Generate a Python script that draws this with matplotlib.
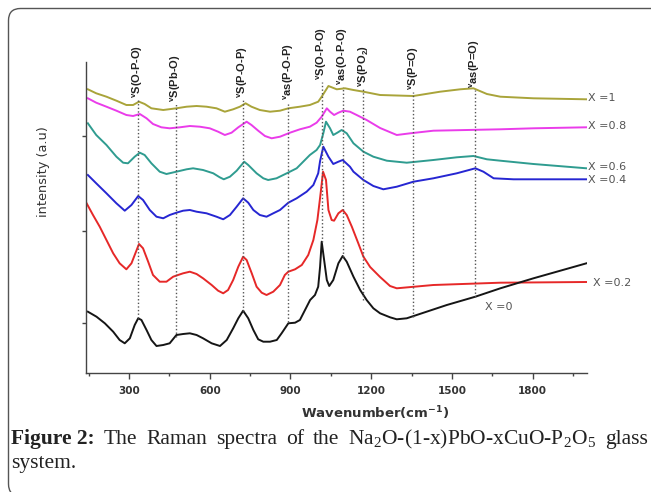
import numpy as np
import matplotlib
matplotlib.use("Agg")
import matplotlib.pyplot as plt
from matplotlib.patches import FancyBboxPatch
from matplotlib.transforms import IdentityTransform
from matplotlib.ticker import FixedLocator

# ---------------- data ----------------
wn_x1 = [147, 178, 216, 253, 290, 315, 337, 358, 383, 427, 476, 514, 551, 588, 625, 656, 687, 712, 733, 755,
         786, 824, 861, 892, 935, 972, 1003, 1016, 1041, 1072, 1103, 1134, 1171, 1233, 1357, 1456, 1531, 1580,
         1630, 1680, 1803, 2000]
int_x1 = [283.7, 279.7, 276.3, 272.3, 268, 268, 271.3, 269, 264.7, 263, 264.7, 266.3, 267, 266.3, 264.7, 261.3,
          263.7, 266.3, 269.7, 266.3, 263, 261.3, 262.3, 264.7, 266.3, 268, 271.3, 276.3, 287, 283.7, 284.7, 283,
          281.3, 278, 277, 281.3, 283.7, 284.7, 279, 276.3, 274.7, 273.7]

wn_x08 = [147, 178, 216, 253, 290, 315, 340, 365, 389, 420, 451, 489, 526, 563, 600, 631, 656, 681, 706, 737,
          755, 780, 805, 830, 861, 898, 935, 972, 997, 1016, 1035, 1047, 1062, 1078, 1096, 1121, 1146, 1183,
          1233, 1295, 1345, 1431, 1556, 1680, 1803, 2000]
int_x08 = [274.7, 270.3, 266.3, 262.3, 258, 257, 259, 254.7, 249, 245.7, 244.7, 245.7, 247, 246.3, 244.7, 241.3,
           238, 240.3, 245.7, 251.3, 248, 242.3, 237, 234.7, 236.3, 240.3, 243.7, 246.3, 250.3, 256.3, 264.7,
           261.3, 258, 260.3, 262.3, 261.3, 258, 253, 245, 238, 239.7, 242.3, 243, 243.7, 244.7, 245.7]

wn_x06 = [147, 178, 216, 253, 278, 296, 321, 340, 358, 383, 414, 439, 476, 514, 538, 575, 613, 637, 652, 675,
          700, 728, 743, 774, 799, 817, 848, 886, 923, 972, 997, 1010, 1022, 1032, 1047, 1059, 1074, 1090, 1109,
          1134, 1171, 1208, 1258, 1332, 1431, 1518, 1580, 1630, 1680, 1803, 2000]
int_x06 = [249.7, 238, 228, 216.3, 210.3, 209.7, 216.3, 220.3, 218, 209.7, 201.3, 199, 201.3, 203.7, 204.7, 203,
           199.7, 195.7, 193.7, 196.3, 202.3, 211.3, 208, 199.7, 194.7, 193, 194.7, 199.7, 204.7, 218, 223, 228,
           239.7, 251.3, 244.7, 238, 240.3, 243, 239.7, 229.7, 221.3, 216.3, 212.3, 210.3, 213, 215.7, 217,
           213.7, 212.3, 209, 204.7]

wn_x04 = [147, 178, 216, 253, 284, 309, 334, 352, 377, 402, 427, 451, 476, 501, 526, 551, 588, 625, 650, 675,
          700, 724, 743, 762, 786, 811, 836, 861, 892, 923, 960, 985, 1003, 1010, 1022, 1041, 1059, 1078, 1094,
          1121, 1134, 1171, 1208, 1245, 1295, 1357, 1431, 1518, 1587, 1617, 1655, 1729, 2000]
int_x04 = [198, 189.7, 179.7, 169.7, 162.3, 168, 177, 173, 163, 156.3, 154.7, 158, 160.3, 162.3, 163, 161.3, 159.7,
           156.3, 153.7, 158, 166.3, 174.7, 170.3, 163, 158, 156.3, 159.7, 163, 170.3, 174.7, 181.3, 188, 199.7,
           212, 226.3, 216.3, 209, 211.3, 213, 206.3, 201.3, 193, 187, 183.7, 186.3, 191.3, 194.7, 199.7, 204.7,
           201.3, 194.7, 193.7, 193.7]

wn_x02 = [139, 166, 191, 216, 241, 265, 290, 309, 321, 337, 352, 371, 389, 414, 439, 464, 482, 501, 526, 551,
          575, 607, 631, 650, 668, 687, 706, 724, 737, 756, 774, 793, 811, 836, 861, 879, 892, 917, 942, 966, 985,
          1000, 1012, 1021, 1032, 1041, 1053, 1062, 1078, 1094, 1109, 1128, 1152, 1171, 1196, 1233, 1270, 1295,
          1431, 1680, 2000]
int_x02 = [171.3, 158, 146.3, 133, 119.7, 109.7, 103.7, 109.7, 118, 129, 124.7, 111.3, 98, 91.3, 91.3, 96.3, 98,
           99.7, 101.3, 99, 94.7, 88, 82.3, 79.7, 83, 93, 106.3, 116.3, 113, 99.7, 86.3, 80.3, 78, 81.3, 88, 98,
           101.3, 103.7, 108, 118, 133, 153, 179.7, 201.3, 193, 163, 153, 152.3, 159.7, 163, 158, 146.3, 129.7,
           116.3, 106, 96, 87, 84.7, 88, 90.3, 91]

wn_x0 = [147, 179, 210, 241, 265, 284, 303, 321, 334, 346, 365, 383, 402, 427, 451, 476, 501, 526, 551, 575, 607,
         638, 663, 687, 706, 724, 743, 762, 780, 799, 824, 849, 867, 892, 917, 935, 954, 973, 991, 1003, 1010, 1016,
         1025, 1035, 1044, 1059, 1078, 1094, 1109, 1134, 1159, 1183, 1208, 1233, 1270, 1295, 1332, 1481, 1587,
         1680, 1803, 2000]
int_x0 = [61.3, 56.3, 49.7, 41.3, 33, 29.7, 34.7, 48, 54.7, 53, 43, 33, 27, 28, 29.7, 38, 39, 39.7, 38, 34.7, 29.7,
          27, 33, 44.7, 54.7, 62.3, 54.7, 43, 33.7, 31.3, 31.3, 33, 39.7, 49.7, 50.3, 53, 63, 73, 78, 86.3, 106.3,
          131.3, 113, 93, 87, 93, 109.7, 117, 111.3, 96.3, 83, 73, 64.7, 59.7, 55.7, 53.7, 54.7, 68, 76.3, 84.7,
          94.7, 109.7]

series_names = ["X =1", "X =0.8", "X =0.6", "X =0.4", "X =0.2", "X =0"]
series_wn = [wn_x1, wn_x08, wn_x06, wn_x04, wn_x02, wn_x0]
series_int = [int_x1, int_x08, int_x06, int_x04, int_x02, int_x0]
name_x = [2007, 2007, 2007, 2007, 2026, 1624]
name_y = [275, 247, 206, 193, 90, 66]

band_pos = [333, 474, 724, 892, 1016, 1094, 1171, 1357, 1584]
band_top = [273, 269, 273, 271, 291, 286, 284, 281, 283]
band_bottom = [55, 36, 62, 51, 131, 116, 73, 56, 76]
band_labels = [r"$^\mathregular{v}$S(O-P-O)", r"$^\mathregular{v}$S(Pb-O)", r"$^\mathregular{v}$S(P-O-P)",
               r"$^\mathregular{v}$as(P-O-P)", r"$^\mathregular{v}$S(O-P-O)", r"$^\mathregular{v}$as(O-P-O)",
               r"$^\mathregular{v}$S(PO$_\mathregular{2}$)", r"$^\mathregular{v}$S(P=O)", r"$^\mathregular{v}$as(P=O)"]

xticks = [300, 600, 900, 1200, 1500, 1800]
xminor = [150, 450, 750, 1050, 1350, 1650, 1950]
yticks = [50, 142, 237]

caption_words = ["Figure 2:", "The", "Raman", "spectra", "of", "the",
                 r"Na$_\mathregular{2}$O-(1-x)PbO-xCuO-P$_\mathregular{2}$O$_\mathregular{5}$", "glass"]
caption_line2 = "system."

# ---------------- style ----------------
colors = ["#a9a43a", "#ea3cea", "#2f9c90", "#2626d2", "#e62828", "#151515"]
W, H = 651, 492
plt.rcParams['font.family'] = ['Liberation Sans', 'DejaVu Sans']

fig = plt.figure(figsize=(W / 100, H / 100), dpi=100)
fig.patch.set_facecolor("white")

ax = fig.add_axes([86 / W, 1 - 373 / H, (587 - 86) / W, (373 - 62) / H])
ax.set_xlim(140, 2002)
ax.set_ylim(0, 311)

for wn, it, c in zip(series_wn, series_int, colors):
    ax.plot(wn, it, color=c, lw=1.4, solid_joinstyle="round")

for nm, x, y in zip(series_names, name_x, name_y):
    ax.text(x, y, nm, color="#555555", fontsize=8, family="DejaVu Sans", va="center", ha="left", clip_on=False)

ax.vlines(band_pos, band_bottom, band_top, colors="#555555", linestyles=(0, (1, 1.6)), lw=1.0)
for x, top, lab in zip(band_pos, band_top, band_labels):
    ax.text(x, top + 2, lab, rotation=90, ha="center", va="bottom", fontsize=8,
            fontweight="bold", color="#222222", clip_on=False)

for s in ["top", "right"]:
    ax.spines[s].set_visible(False)
for s in ["left", "bottom"]:
    ax.spines[s].set_color("#444444")
    ax.spines[s].set_linewidth(1.0)

ax.xaxis.set_major_locator(FixedLocator(xticks))
ax.xaxis.set_minor_locator(FixedLocator(xminor))
ax.set_yticks(yticks)
ax.set_yticklabels([])
ax.tick_params(axis="x", which="major", direction="out", length=4, width=1, color="#444444",
               labelsize=7.5, labelcolor="#333333", pad=5)
ax.tick_params(axis="x", which="minor", direction="out", length=2.5, width=1, color="#444444")
ax.tick_params(axis="y", direction="out", length=3, width=1, color="#444444")
for lbl in ax.get_xticklabels():
    lbl.set_fontweight("bold")
    lbl.set_family("DejaVu Sans")

fig.text(375 / W, 1 - 413 / H, r"Wavenumber(cm$^\mathregular{-1}$)", ha="center", va="center",
         fontsize=9.5, fontweight="bold", family="DejaVu Sans", color="#333333")
fig.text(44 / W, 1 - 172 / H, "intensity (a.u)", rotation=90, ha="center", va="center",
         fontsize=9.3, family="DejaVu Sans", color="#333333")

# caption (justified first line)
cap_font = ['Liberation Serif', 'DejaVu Serif']
fig.canvas.draw()
renderer = fig.canvas.get_renderer()
objs = []
for i, wtxt in enumerate(caption_words):
    t = fig.text(0, 1 - 444 / H, wtxt, family=cap_font, fontweight="bold" if i == 0 else "normal",
                 fontsize=15.5, va="baseline", ha="left", color="#222222")
    objs.append(t)
widths = [t.get_window_extent(renderer=renderer).width for t in objs]
x0, x1 = 11, 648
gap = (x1 - x0 - sum(widths)) / (len(objs) - 1)
xc = x0
for t, wd in zip(objs, widths):
    t.set_x(xc / W)
    xc += wd + gap
fig.text(11 / W, 1 - 468 / H, caption_line2, family=cap_font, fontsize=15.5, va="baseline", ha="left",
         color="#222222")

box = FancyBboxPatch((8.5, -4), 700, 492 - 8.5 + 4, boxstyle="round,pad=0,rounding_size=12",
                     transform=IdentityTransform(), facecolor="none", edgecolor="#555555", lw=1.0)
fig.add_artist(box)

fig.savefig("out.png", dpi=100)
